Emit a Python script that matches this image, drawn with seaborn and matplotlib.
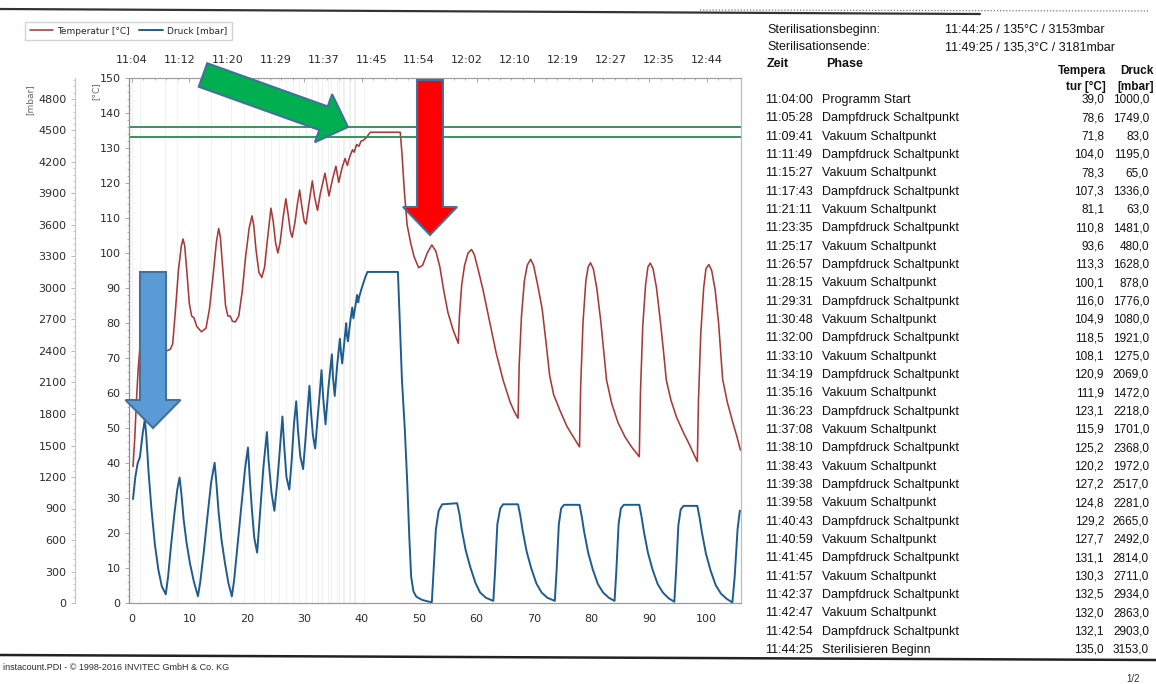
# -*- coding: utf-8 -*-

import numpy as np
import pandas as pd
import matplotlib
matplotlib.use('Agg')
import matplotlib.pyplot as plt
from matplotlib.patches import Polygon
from matplotlib.ticker import MultipleLocator
import seaborn as sns


W, H = 1156, 684

# Zeitachse oben
TOP_POS = [0, 8.33, 16.67, 25, 33.33, 41.67, 50, 58.33, 66.67, 75, 83.33, 91.67, 100]
TOP_LABELS = ['11:04', '11:12', '11:20', '11:29', '11:37', '11:45', '11:54',
              '12:02', '12:10', '12:19', '12:27', '12:35', '12:44']

# Temperaturverlauf (Minuten ab Start, °C)
temp_min = [0.2, 0.5, 0.8, 1.1, 1.4, 1.8, 2.3, 3.0, 4.0, 5.0, 6.0, 6.7, 7.1, 7.6, 8.1, 8.6, 8.9,
            9.2, 9.6, 10.0, 10.4, 10.8, 11.3, 12.1, 12.9, 13.5, 14.1, 14.7, 15.1,
            15.4, 15.8, 16.3, 16.7, 17.1, 17.5, 18.0, 18.6, 19.2, 19.8, 20.4, 20.9,
            21.2, 21.6, 22.1, 22.6, 23.1, 23.6, 24.2, 24.6, 25.0, 25.4, 25.8, 26.3, 26.8,
            27.2, 27.6, 27.9, 28.4, 28.8, 29.2, 29.6, 30.0, 30.3, 30.8, 31.4,
            31.8, 32.3, 32.8, 33.6, 34.0, 34.3, 34.9, 35.5, 35.8, 36.0, 36.6, 37.1,
            37.5, 37.9, 38.4, 38.7, 39.1, 39.5, 39.9, 40.3, 40.8, 41.5, 46.7,
            47.0, 47.4, 47.9, 48.5, 49.1, 49.9, 50.6, 51.4, 52.2, 52.9, 53.6, 54.3, 55.0, 55.9, 56.8,
            57.0, 57.4, 57.9, 58.5, 59.1, 59.6, 60.3, 61.1, 62.3, 63.4, 64.6, 65.8, 66.6, 67.2,
            67.4, 67.8, 68.3, 68.8, 69.4, 69.9, 70.6, 71.4, 72.1, 72.7, 73.4, 74.5, 75.7, 76.8, 77.9,
            78.1, 78.5, 79.0, 79.4, 79.8, 80.3, 80.9, 81.6, 82.2, 82.6, 83.5, 84.6, 85.8, 87.0, 88.3,
            88.5, 88.9, 89.4, 89.8, 90.2, 90.7, 91.3, 92.0, 92.6, 93.0, 93.8, 94.8, 95.9, 97.1, 98.4,
            98.6, 99.0, 99.5, 99.9, 100.4, 100.9, 101.5, 102.1, 102.5, 102.8, 103.6, 104.5, 105.3, 105.9]
temp_c = [39.0, 47, 58, 67, 73, 77, 79, 78.5, 76, 73.5, 72, 72.5, 74, 84, 95, 102, 104,
          102, 94, 85.5, 82, 81.5, 79, 77.5, 78.5, 84, 93, 103, 107,
          104.5, 96, 85, 82, 82, 80.5, 80.3, 82, 89, 99, 107, 110.6,
          108, 101, 94.5, 93, 96, 104, 112.8, 109, 103, 100, 103, 110, 115.5,
          111, 106, 104.5, 109, 114, 118, 113, 109, 108.3, 114, 120.6,
          116, 112.2, 117, 122.8, 119, 116.3, 121, 124.8, 122, 120.2, 124.5, 127,
          125, 127.5, 129.5, 128.8, 131, 130.5, 132, 132.2, 133, 134.5, 134.5,
          128.5, 118, 108, 103, 99, 95.8, 96.5, 100, 102.3, 100.5, 96, 89, 83, 78, 74.2,
          82, 91, 96.5, 100, 101, 99.5, 95, 89.5, 80, 71.4, 63.7, 57.5, 54.5, 52.8,
          68, 82, 92, 96.5, 98.2, 96.5, 91, 84, 74, 65, 59.5, 55, 50.5, 47.5, 44.6,
          62, 80, 92, 96, 97.2, 95.5, 90, 80.5, 70.5, 63.7, 57, 51.5, 47.5, 44.5, 41.8,
          60, 79, 91, 96, 97.1, 95.5, 90, 80, 70.5, 63.7, 58, 53, 49, 45, 40.4,
          58, 77, 90, 95.5, 96.7, 95, 89.5, 80, 71, 64, 57.5, 52, 47.5, 43.7]

# Druckverlauf (Minuten ab Start, mbar)
druck_min = [0.2, 0.6, 1.0, 1.4, 1.9, 2.25, 2.5, 2.9, 3.4, 4.0, 4.6, 5.2, 5.9,
             6.3, 6.8, 7.4, 7.9, 8.3, 8.6, 9.0, 9.5, 10.1, 10.8, 11.5,
             11.9, 12.5, 13.2, 13.8, 14.4, 14.7, 15.1, 15.6, 16.2, 16.8, 17.4,
             17.8, 18.4, 19.1, 19.7, 20.2, 20.5, 20.9, 21.3, 21.8,
             22.3, 22.9, 23.5, 23.8, 24.3, 24.8, 25.3, 25.8, 26.2, 26.5, 26.9, 27.4,
             27.8, 28.2, 28.6, 28.9, 29.3, 29.8, 30.2, 30.6, 30.9, 31.2, 31.5, 31.9,
             32.3, 32.7, 33.0, 33.3, 33.7, 34.2, 34.8, 35.0, 35.3, 35.7, 36.2, 36.4, 36.6,
             36.9, 37.3, 37.4, 37.6, 38.0, 38.35, 38.55, 39.2, 39.4, 39.5, 40.0, 40.6, 41.0, 46.3,
             46.6, 47.0, 47.5, 47.9, 48.3, 48.6, 49.0, 49.5, 50.5, 51.5, 52.2,
             52.5, 52.9, 53.4, 54.0, 56.6, 57.0, 57.4, 58.1, 58.9, 59.8, 60.6, 61.6, 62.9,
             63.2, 63.6, 64.1, 64.6, 67.2, 67.6, 68.0, 68.7, 69.5, 70.4, 71.3, 72.3, 73.6,
             73.9, 74.3, 74.7, 75.2, 77.9, 78.3, 78.7, 79.4, 80.2, 81.1, 82.0, 83.0, 84.0,
             84.3, 84.7, 85.1, 85.6, 88.3, 88.7, 89.1, 89.8, 90.6, 91.5, 92.4, 93.4, 94.4,
             94.7, 95.1, 95.5, 96.0, 98.4, 98.8, 99.2, 99.9, 100.7, 101.6, 102.5, 103.5, 104.5,
             104.9, 105.4, 105.8]
druck_mbar = [990, 1200, 1330, 1390, 1620, 1749, 1600, 1250, 900, 560, 320, 160, 83,
              250, 540, 850, 1080, 1195, 1050, 800, 580, 380, 200, 65,
              200, 480, 850, 1150, 1336, 1150, 860, 600, 380, 190, 63,
              220, 560, 950, 1280, 1481, 1200, 880, 620, 480,
              850, 1300, 1628, 1350, 1050, 878, 1150, 1500, 1776, 1500, 1200, 1080,
              1350, 1700, 1921, 1650, 1400, 1275, 1550, 1850, 2069, 1800, 1600, 1472,
              1750, 2000, 2218, 1950, 1701, 2050, 2368, 2150, 1972, 2250, 2517, 2380, 2281,
              2450, 2665, 2560, 2492, 2680, 2814, 2711, 2934, 2863, 2903, 3000, 3100, 3153, 3153,
              2700, 2124, 1650, 1171, 600, 250, 110, 60, 30, 15, 8,
              300, 700, 880, 940, 950, 850, 700, 500, 340, 190, 100, 50, 20,
              300, 750, 900, 940, 940, 830, 690, 490, 330, 185, 100, 50, 20,
              300, 750, 900, 935, 935, 820, 680, 480, 320, 180, 100, 50, 20,
              300, 750, 900, 935, 935, 820, 680, 480, 320, 180, 100, 45, 12,
              300, 740, 890, 925, 925, 810, 670, 470, 310, 170, 90, 40, 5,
              250, 700, 880]

# Tabelle rechts
zeit = ['11:04:00', '11:05:28', '11:09:41', '11:11:49', '11:15:27', '11:17:43', '11:21:11',
        '11:23:35', '11:25:17', '11:26:57', '11:28:15', '11:29:31', '11:30:48', '11:32:00',
        '11:33:10', '11:34:19', '11:35:16', '11:36:23', '11:37:08', '11:38:10', '11:38:43',
        '11:39:38', '11:39:58', '11:40:43', '11:40:59', '11:41:45', '11:41:57', '11:42:37',
        '11:42:47', '11:42:54', '11:44:25']
phase = ['Programm Start',
         'Dampfdruck Schaltpunkt', 'Vakuum Schaltpunkt', 'Dampfdruck Schaltpunkt',
         'Vakuum Schaltpunkt', 'Dampfdruck Schaltpunkt', 'Vakuum Schaltpunkt',
         'Dampfdruck Schaltpunkt', 'Vakuum Schaltpunkt', 'Dampfdruck Schaltpunkt',
         'Vakuum Schaltpunkt', 'Dampfdruck Schaltpunkt', 'Vakuum Schaltpunkt',
         'Dampfdruck Schaltpunkt', 'Vakuum Schaltpunkt', 'Dampfdruck Schaltpunkt',
         'Vakuum Schaltpunkt', 'Dampfdruck Schaltpunkt', 'Vakuum Schaltpunkt',
         'Dampfdruck Schaltpunkt', 'Vakuum Schaltpunkt', 'Dampfdruck Schaltpunkt',
         'Vakuum Schaltpunkt', 'Dampfdruck Schaltpunkt', 'Vakuum Schaltpunkt',
         'Dampfdruck Schaltpunkt', 'Vakuum Schaltpunkt', 'Dampfdruck Schaltpunkt',
         'Vakuum Schaltpunkt', 'Dampfdruck Schaltpunkt',
         'Sterilisieren Beginn']
temp_tab = ['39,0', '78,6', '71,8', '104,0', '78,3', '107,3', '81,1', '110,8', '93,6',
            '113,3', '100,1', '116,0', '104,9', '118,5', '108,1', '120,9', '111,9', '123,1',
            '115,9', '125,2', '120,2', '127,2', '124,8', '129,2', '127,7', '131,1', '130,3',
            '132,5', '132,0', '132,1', '135,0']
druck_tab = ['1000,0', '1749,0', '83,0', '1195,0', '65,0', '1336,0', '63,0', '1481,0',
             '480,0', '1628,0', '878,0', '1776,0', '1080,0', '1921,0', '1275,0', '2069,0',
             '1472,0', '2218,0', '1701,0', '2368,0', '1972,0', '2517,0', '2281,0', '2665,0',
             '2492,0', '2814,0', '2711,0', '2934,0', '2863,0', '2903,0', '3153,0']

RED = '#a8393a'
BLUE = '#1f5c8e'
GREEN = '#2a8a52'
TXT = '#2b2b2b'


def block_arrow(tail, tip, shaft_w, head_w, head_l):
    tail = np.array(tail, float)
    tip = np.array(tip, float)
    d = (tip - tail) / np.linalg.norm(tip - tail)
    n = np.array([-d[1], d[0]])
    base = tip - d * head_l
    return [tail + n * shaft_w / 2, base + n * shaft_w / 2, base + n * head_w / 2, tip,
            base - n * head_w / 2, base - n * shaft_w / 2, tail - n * shaft_w / 2]


def minuten(t):
    h, m, s = (int(v) for v in t.split(':'))
    return (h * 60 + m + s / 60) - (11 * 60 + 4)


def main():
    sns.set_style('white')
    plt.rcParams['font.family'] = ['DejaVu Sans']

    fig = plt.figure(figsize=(W / 100, H / 100), dpi=100)
    ax = fig.add_axes([129 / W, (H - 603) / H, 612 / W, 525 / H])

    df_t = pd.DataFrame({'Minuten': temp_min, 'Temperatur': temp_c})
    df_p = pd.DataFrame({'Minuten': druck_min, 'Druck': druck_mbar})

    # Ereignislinien (Schaltpunkte)
    for t in zeit:
        ax.axvline(minuten(t), color='#ebebeb', lw=0.5, zorder=0)

    sns.lineplot(data=df_t, x='Minuten', y='Temperatur', ax=ax, color=RED,
                 linewidth=1.15, estimator=None, sort=False, legend=False)
    line_t = ax.lines[-1]
    ax.axhline(136.0, color=GREEN, lw=1.3)
    ax.axhline(133.0, color=GREEN, lw=1.3)

    ax.set_xlim(-0.5, 106)
    ax.set_ylim(0, 150)
    ax.set_xlabel('')
    ax.set_ylabel('')
    ax.set_xticks(range(0, 101, 10))
    ax.set_yticks(range(0, 151, 10))
    ax.xaxis.set_minor_locator(MultipleLocator(2))
    ax.yaxis.set_minor_locator(MultipleLocator(2))
    ax.tick_params(axis='x', which='both', top=True, direction='in', colors='#999999',
                   labelcolor=TXT, labelsize=8, pad=8)
    ax.tick_params(axis='x', which='major', length=3, width=0.6)
    ax.tick_params(axis='x', which='minor', length=1.5, width=0.5)
    ax.tick_params(axis='y', which='both', direction='out', colors='#999999',
                   labelcolor=TXT, labelsize=8, pad=3)
    ax.tick_params(axis='y', which='major', length=3, width=0.6)
    ax.tick_params(axis='y', which='minor', length=1.5, width=0.5)
    for side, col in [('left', '#8c8c8c'), ('bottom', '#9a9a9a'),
                      ('top', '#a0a0a0'), ('right', '#bdbdbd')]:
        ax.spines[side].set_color(col)
        ax.spines[side].set_linewidth(0.9)

    # Druckachse links aussen
    ax2 = ax.twinx()
    sns.lineplot(data=df_p, x='Minuten', y='Druck', ax=ax2, color=BLUE,
                 linewidth=1.4, estimator=None, sort=False, legend=False)
    line_p = ax2.lines[-1]
    ax2.set_ylim(0, 5000)
    ax2.set_ylabel('')
    ax2.set_yticks(range(0, 4801, 300))
    ax2.yaxis.set_minor_locator(MultipleLocator(60))
    ax2.yaxis.set_ticks_position('left')
    ax2.yaxis.set_label_position('left')
    ax2.spines['left'].set_visible(True)
    ax2.spines['left'].set_position(('outward', 39))
    ax2.spines['left'].set_color('#c4c4c4')
    for side in ['right', 'top', 'bottom']:
        ax2.spines[side].set_visible(False)
    ax2.tick_params(axis='y', which='both', direction='out', colors='#b0b0b0',
                    labelcolor=TXT, labelsize=8, pad=3)
    ax2.tick_params(axis='y', which='major', length=3, width=0.6)
    ax2.tick_params(axis='y', which='minor', length=1.5, width=0.5)

    # Uhrzeitachse oben
    secax = ax.secondary_xaxis('top')
    secax.set_xticks(TOP_POS)
    secax.set_xticklabels(TOP_LABELS)
    secax.tick_params(length=0, pad=9, labelsize=8, labelcolor=TXT)
    secax.spines['top'].set_visible(False)

    fig.legend(handles=[line_t, line_p], labels=['Temperatur [°C]', 'Druck [mbar]'],
               loc='upper left', bbox_to_anchor=(25 / W, 1 - 22 / H), ncol=2,
               fontsize=6.5, frameon=True, fancybox=False, edgecolor='#c8c8c8',
               handlelength=2.6, columnspacing=1.0, handletextpad=0.5,
               borderpad=0.5, borderaxespad=0)

    # Overlay in Pixelkoordinaten
    ov = fig.add_axes([0, 0, 1, 1])
    ov.set_xlim(0, W)
    ov.set_ylim(H, 0)
    ov.axis('off')

    ov.text(30, 100, '[mbar]', rotation=90, fontsize=6.5, color='#666666', ha='center', va='center')
    ov.text(96, 91, '[°C]', rotation=90, fontsize=6.5, color='#666666', ha='center', va='center')

    # Pfeile
    edge = '#41719c'
    ov.add_patch(Polygon(block_arrow((203, 75), (348, 127), 25, 51, 26),
                         closed=True, fc='#00b050', ec=edge, lw=1.5, zorder=10))
    ov.add_patch(Polygon(block_arrow((430, 80), (430, 235), 26, 54, 28),
                         closed=True, fc='#ff0000', ec=edge, lw=1.5, zorder=10))
    ov.add_patch(Polygon(block_arrow((153, 272), (153, 428), 26, 55, 28),
                         closed=True, fc='#5b9bd5', ec=edge, lw=1.5, zorder=10))

    # Seitenrahmen
    ov.plot([0, 980], [9, 14], color='#333333', lw=1.6)
    ov.plot([700, 1150], [10, 11], color='#777777', lw=0.9, ls=(0, (1, 1.5)))
    ov.plot([0, 1156], [655, 660], color='#222222', lw=1.8)
    ov.text(3, 667, 'instacount.PDI - © 1998-2016 INVITEC GmbH & Co. KG',
            fontsize=6.5, family='Liberation Sans', color=TXT, va='center')
    ov.text(1140, 679, '1/2', fontsize=7, family='Liberation Sans', color=TXT,
            ha='right', va='center')

    # Tabelle
    tf = dict(fontsize=9, family='Liberation Sans', color='#111111', va='center')
    nf = dict(fontsize=8.5, family='Liberation Sans', color='#111111', va='center')
    ov.text(767, 30, 'Sterilisationsbeginn:', **tf)
    ov.text(945, 30, '11:44:25 / 135°C / 3153mbar', **tf)
    ov.text(767, 47, 'Sterilisationsende:', **tf)
    ov.text(945, 47, '11:49:25 / 135,3°C / 3181mbar', **tf)
    ov.text(767, 64, 'Zeit', fontweight='bold', **tf)
    ov.text(826, 64, 'Phase', fontweight='bold', **tf)
    ov.text(1106, 71, 'Tempera', fontweight='bold', ha='right', **nf)
    ov.text(1106, 87, 'tur [°C]', fontweight='bold', ha='right', **nf)
    ov.text(1154, 71, 'Druck', fontweight='bold', ha='right', **nf)
    ov.text(1154, 87, '[mbar]', fontweight='bold', ha='right', **nf)
    for i in range(len(zeit)):
        y = 100 + i * 18.33
        ov.text(765, y, zeit[i], **tf)
        ov.text(822, y, phase[i], **tf)
        ov.text(1104, y, temp_tab[i], ha='right', **nf)
        ov.text(1149, y, druck_tab[i], ha='right', **nf)

    fig.savefig('out.png', dpi=100)


if __name__ == '__main__':
    main()
